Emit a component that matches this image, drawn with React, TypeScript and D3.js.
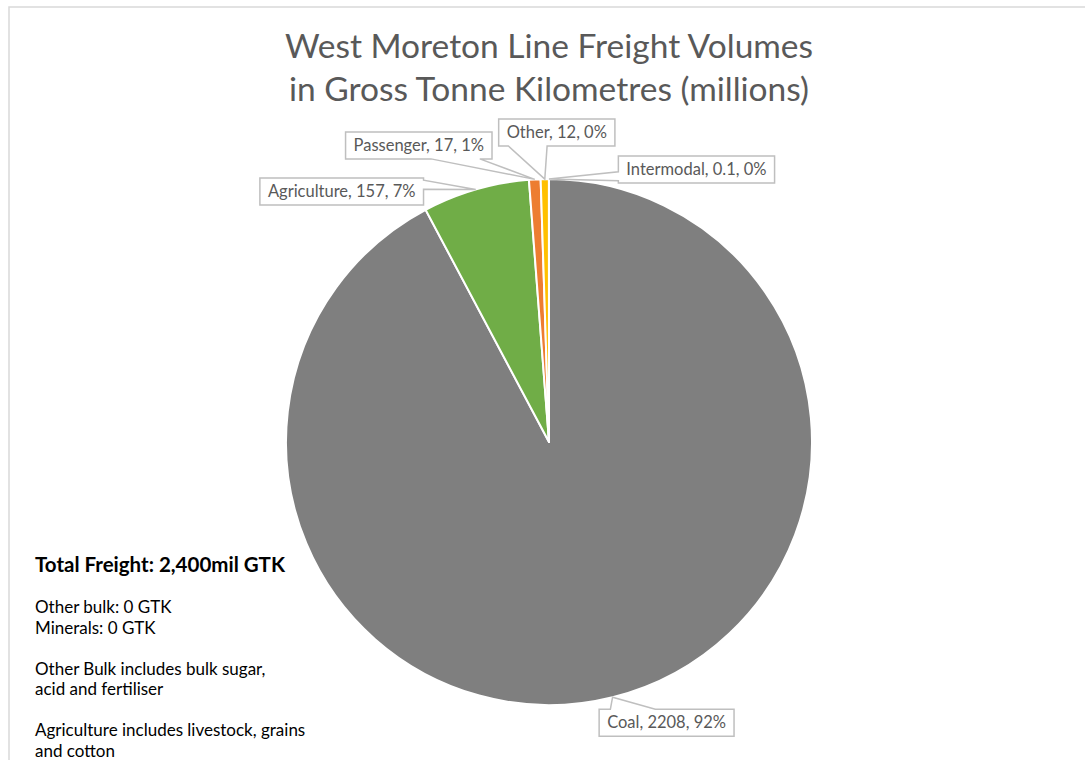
import React, { useEffect, useRef } from "react";
import * as d3 from "d3";

const categories = ["Coal", "Agriculture", "Passenger", "Other", "Intermodal"];
const values = [2208, 157, 17, 12, 0.1];
const percentLabels = ["92%", "7%", "1%", "0%", "0%"];
const colors = ["#7f7f7f", "#70ad47", "#ed7d31", "#ffc000", "#5b9bd5"];
const titleLines = ["West Moreton Line Freight Volumes", "in Gross Tonne Kilometres (millions)"];
const noteHeading = "Total Freight: 2,400mil GTK";
const noteLines = [
  ["Other bulk: 0 GTK", "Minerals: 0 GTK"],
  ["Other Bulk includes bulk sugar,", "acid and fertiliser"],
  ["Agriculture includes livestock, grains", "and cotton"],
];

// layout: label box centre offsets from the callout tip
const labelOffsets: [number, number][] = [
  [54, 25.5],
  [-134, 2],
  [-116, -34],
  [12, -46.5],
  [147.5, -9.5],
];

const W = 1085;
const H = 760;
const CX = 549;
const CY = 442;
const R = 263;
const FONT = "Lato, 'Open Sans', sans-serif";

function calloutPath(x0: number, y0: number, w: number, h: number, tx: number, ty: number) {
  const cx = x0 + w / 2;
  const cy = y0 + h / 2;
  const dx = tx - cx;
  const dy = ty - cy;
  const x1 = x0 + w;
  const y1 = y0 + h;
  const p: [number, number][] = [];
  if (Math.abs(dx) * h > Math.abs(dy) * w) {
    const a = dy < 0 ? y0 + h / 12 : y0 + (7 * h) / 12;
    const b = dy < 0 ? y0 + (5 * h) / 12 : y0 + (11 * h) / 12;
    if (dx > 0) {
      p.push([x0, y0], [x1, y0], [x1, a], [tx, ty], [x1, b], [x1, y1], [x0, y1]);
    } else {
      p.push([x0, y0], [x1, y0], [x1, y1], [x0, y1], [x0, b], [tx, ty], [x0, a]);
    }
  } else {
    const a = dx < 0 ? x0 + w / 12 : x0 + (7 * w) / 12;
    const b = dx < 0 ? x0 + (5 * w) / 12 : x0 + (11 * w) / 12;
    if (dy > 0) {
      p.push([x0, y0], [x1, y0], [x1, y1], [b, y1], [tx, ty], [a, y1], [x0, y1]);
    } else {
      p.push([x0, y0], [a, y0], [tx, ty], [b, y0], [x1, y0], [x1, y1], [x0, y1]);
    }
  }
  return "M" + p.map((q) => q.join(",")).join("L") + "Z";
}

export default function App() {
  const ref = useRef<SVGSVGElement>(null);

  useEffect(() => {
    const svg = d3.select(ref.current);
    svg.selectAll("*").remove();

    svg
      .append("rect")
      .attr("x", 9)
      .attr("y", 7)
      .attr("width", W)
      .attr("height", H)
      .attr("fill", "#fff")
      .attr("stroke", "#d9d9d9")
      .attr("stroke-width", 1.5);

    const title = svg
      .append("text")
      .attr("x", CX)
      .attr("text-anchor", "middle")
      .attr("fill", "#595959")
      .attr("font-family", FONT)
      .attr("font-size", 33.5);
    titleLines.forEach((t, i) => {
      title.append("tspan").attr("x", CX).attr("y", 58 + i * 43).text(t);
    });

    const data = categories.map((c, i) => ({ c, v: values[i], p: percentLabels[i], col: colors[i], off: labelOffsets[i] }));
    const pie = d3.pie<any>().sort(null).value((d) => d.v);
    const arcs = pie(data);
    const arc = d3.arc<any>().innerRadius(0).outerRadius(R);

    const g = svg.append("g").attr("transform", `translate(${CX},${CY})`);
    g.selectAll("path")
      .data(arcs)
      .join("path")
      .attr("d", arc as any)
      .attr("fill", (d: any) => d.data.col)
      .attr("stroke", "#fff")
      .attr("stroke-width", 2)
      .attr("stroke-linejoin", "round");

    const lg = svg.append("g");
    arcs.forEach((a: any) => {
      const mid = (a.startAngle + a.endAngle) / 2;
      const tx = CX + R * Math.sin(mid);
      const ty = CY - R * Math.cos(mid);
      const label = `${a.data.c}, ${a.data.v}, ${a.data.p}`;
      const cxL = tx + a.data.off[0];
      const cyL = ty + a.data.off[1];
      const grp = lg.append("g");
      const path = grp.append("path");
      const txt = grp
        .append("text")
        .attr("x", cxL)
        .attr("y", cyL + 5.5)
        .attr("text-anchor", "middle")
        .attr("fill", "#595959")
        .attr("font-family", FONT)
        .attr("font-size", 16.5)
        .text(label);
      const tw = (txt.node() as SVGTextElement).getComputedTextLength();
      const bw = tw + 16;
      const bh = 27;
      path
        .attr("d", calloutPath(cxL - bw / 2, cyL - bh / 2, bw, bh, tx, ty))
        .attr("fill", "#fff")
        .attr("stroke", "#bfbfbf")
        .attr("stroke-width", 1.5);
    });

    const notes = svg.append("g").attr("font-family", FONT).attr("fill", "#000");
    notes
      .append("text")
      .attr("x", 35)
      .attr("y", 572)
      .attr("font-size", 20.5)
      .attr("font-weight", "bold")
      .text(noteHeading);
    let y = 613;
    noteLines.forEach((grp) => {
      grp.forEach((line) => {
        notes.append("text").attr("x", 35).attr("y", y).attr("font-size", 17).text(line);
        y += 20.5;
      });
      y += 20.5;
    });
  }, []);

  return (
    <svg
      ref={ref}
      width={W}
      height={H}
      style={{ position: "absolute", left: 0, top: 0, display: "block" }}
    />
  );
}
